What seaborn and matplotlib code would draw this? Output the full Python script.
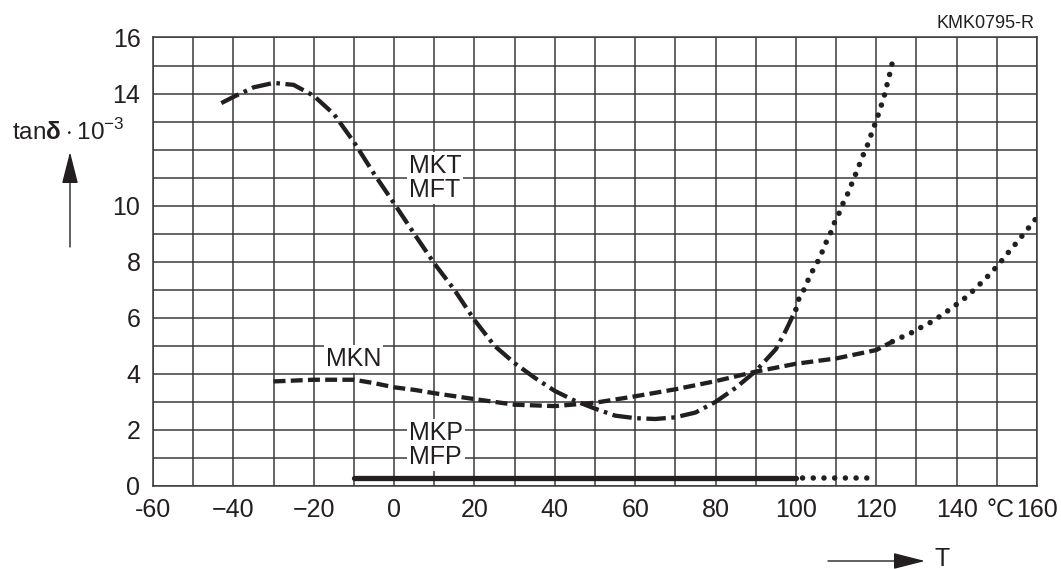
import seaborn as sns
import matplotlib.pyplot as plt
import numpy as np

# values
# MKT / MFT: dash-dot up to 100 degC, dotted beyond
mkt_x = [-43, -40, -35, -30, -25, -20, -15, -10, -5, 0, 5, 10, 15, 20, 25, 30, 35, 40, 45,
         50, 55, 60, 65, 70, 75, 80, 85, 90, 95, 97.5, 100]
mkt_y = [13.66, 13.88, 14.22, 14.38, 14.31, 13.92, 13.27, 12.27, 11.14, 10.08, 9.0, 7.94, 7.0,
         5.92, 5.0, 4.38, 3.86, 3.39, 3.04, 2.76, 2.51, 2.42, 2.39, 2.45, 2.62, 3.0, 3.5, 4.1,
         4.88, 5.55, 6.3]
mkt_hot_x = [100, 100.8, 102.1, 103.3, 104.6, 106.0, 107.1, 108.5, 109.6, 110.8, 111.8, 113.1,
             114.2, 115.4, 116.4, 117.7, 118.8, 120.0, 121.1, 122.1, 122.9, 123.7, 124.4]
mkt_hot_y = [6.3, 6.71, 7.03, 7.44, 7.80, 8.15, 8.57, 8.98, 9.40, 9.75, 10.11, 10.49, 10.90,
             11.31, 11.70, 12.12, 12.57, 13.04, 13.51, 13.98, 14.45, 14.90, 15.41]

# MKN: dashed, dotted beyond ~124 degC
mkn_x = [-30, -20, -10, -5, 0, 5, 10, 20, 30, 40, 50, 60, 70, 80, 90, 100, 110, 120, 124]
mkn_y = [3.73, 3.79, 3.79, 3.67, 3.52, 3.43, 3.31, 3.10, 2.90, 2.85, 2.97, 3.20, 3.45, 3.74,
         4.08, 4.36, 4.55, 4.85, 5.15]
mkn_hot_x = [124, 126.5, 128.8, 130.9, 133.3, 135.3, 137.7, 140, 142.2, 144.2, 146.2, 148,
             149.8, 151.7, 153.3, 155.1, 157, 158.6, 160]
mkn_hot_y = [5.15, 5.32, 5.47, 5.64, 5.82, 6.0, 6.24, 6.48, 6.72, 6.98, 7.26, 7.52, 7.8, 8.12,
             8.41, 8.71, 9.05, 9.33, 9.59]

# MKP / MFP: flat
mkp_x = [-10, 100]
mkp_y = [0.27, 0.27]
mkp_hot_x = [100, 120]
mkp_hot_y = [0.27, 0.27]

xtick_pos = [-60, -40, -20, 0, 20, 40, 60, 80, 100, 120, 140, 160]
xtick_lab = ['-60', '\u221240', '\u221220', '0', '20', '40', '60', '80', '100', '120', '140', '160']
ytick_pos = [0, 2, 4, 6, 8, 10, 14, 16]

sns.set_style('white')
plt.rcParams['font.family'] = ['Liberation Sans', 'DejaVu Sans']
plt.rcParams['mathtext.fontset'] = 'custom'
plt.rcParams['mathtext.rm'] = 'Liberation Sans'
plt.rcParams['mathtext.bf'] = 'Liberation Sans:bold'
plt.rcParams['lines.scale_dashes'] = False

ink = '#231f20'
fig = plt.figure(figsize=(10.61, 5.69), dpi=100)
ax = fig.add_axes([0.1442, 0.1459, 0.8332, 0.7882])

dashdot = (0, (14, 4, 2.6, 4))
dashed = (0, (8.6, 3.8))
dotted = (0, (0.01, 7.6))

sns.lineplot(x=mkt_x, y=mkt_y, ax=ax, color=ink, lw=3.1, linestyle=dashdot, legend=False)
sns.lineplot(x=mkt_hot_x, y=mkt_hot_y, ax=ax, color=ink, lw=4.0, linestyle=dotted,
             dash_capstyle='round', legend=False)
sns.lineplot(x=mkn_x, y=mkn_y, ax=ax, color=ink, lw=3.1, linestyle=dashed, legend=False)
sns.lineplot(x=mkn_hot_x, y=mkn_hot_y, ax=ax, color=ink, lw=4.0, linestyle=dotted,
             dash_capstyle='round', legend=False)
sns.lineplot(x=mkp_x, y=mkp_y, ax=ax, color=ink, lw=3.8, legend=False)
sns.lineplot(x=mkp_hot_x, y=mkp_hot_y, ax=ax, color=ink, lw=4.0, linestyle=(3, (0.01, 7.7)),
             dash_capstyle='round', legend=False)

ax.set_xlim(-60, 160)
ax.set_ylim(0, 16)
ax.set_xticks(xtick_pos)
ax.set_xticklabels(xtick_lab)
ax.set_yticks(ytick_pos)
ax.set_xticks(np.arange(-60, 161, 10), minor=True)
ax.set_yticks(np.arange(0, 17, 1), minor=True)
ax.tick_params(which='both', length=0, labelsize=18, colors=ink, pad=9)
ax.grid(which='both', color='#3a3a3a', lw=1.1)
ax.set_axisbelow(True)
for s in ax.spines.values():
    s.set_color('#3a3a3a')
    s.set_linewidth(1.1)
ax.set_xlabel('')
ax.set_ylabel('')

# unit next to the 140 tick, on the tick label row
ax.annotate('\u00b0C', xy=(151, 0), xycoords=('data', 'axes fraction'), xytext=(0, -9),
            textcoords='offset points', ha='center', va='top', fontsize=18, color=ink)

box = dict(facecolor='white', edgecolor='none', pad=1.5)
ax.text(3.6, 11.0, 'MKT\nMFT', ha='left', va='center', fontsize=18, color=ink,
        linespacing=1.0, bbox=box)
ax.text(-17, 4.52, 'MKN', ha='left', va='center', fontsize=18, color=ink, bbox=box)
ax.text(3.6, 1.45, 'MKP\nMFP', ha='left', va='center', fontsize=18, color=ink,
        linespacing=1.0, bbox=box)

# axis captions with arrows
fig.text(12 / 1061, 1 - 132 / 569, r'tan$\mathbf{\delta}\cdot$10$^{-3}$', ha='left',
         va='center', fontsize=17.5, color=ink)
head = '-|>,head_length=1.1,head_width=0.28'
fig.add_artist(plt.Annotation('', xy=(70 / 1061, 1 - 152 / 569), xytext=(70 / 1061, 1 - 247 / 569),
               xycoords='figure fraction',
               arrowprops=dict(arrowstyle=head, mutation_scale=18,
                               lw=1.0, color=ink, shrinkA=0, shrinkB=0)))
fig.add_artist(plt.Annotation('', xy=(925 / 1061, 1 - 561 / 569), xytext=(828 / 1061, 1 - 561 / 569),
               xycoords='figure fraction',
               arrowprops=dict(arrowstyle=head, mutation_scale=18,
                               lw=1.0, color=ink, shrinkA=0, shrinkB=0)))
fig.text(942 / 1061, 1 - 559 / 569, 'T', ha='center', va='center', fontsize=18, color=ink)
fig.text(1035 / 1061, 1 - 23 / 569, 'KMK0795-R', ha='right', va='center', fontsize=13, color=ink)

fig.savefig('out.png', dpi=100)
